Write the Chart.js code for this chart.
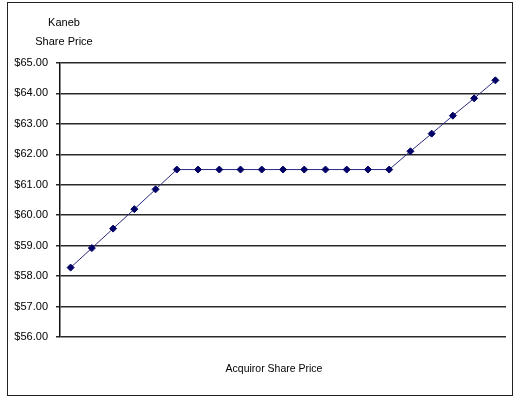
<!DOCTYPE html>
<html>
<head>
<meta charset="utf-8">
<script src="https://cdn.jsdelivr.net/npm/chart.js@4"></script>
<style>
  html, body { margin: 0; padding: 0; background: #fff; }
  #frame {
    position: absolute; left: 7px; top: 2px;
    width: 504px; height: 392px;
    border: 1px solid #222;
  }
  #kanebChart { display: block; }
</style>
</head>
<body>
<div id="frame">
  <canvas id="kanebChart" width="504" height="392"></canvas>
</div>
<script>
// acquiror share price steps (no labels shown on the axis)
const categories = ["1", "2", "3", "4", "5", "6", "7", "8", "9", "10", "11",
  "12", "13", "14", "15", "16", "17", "18", "19", "20", "21"];
const kanebPrices = [58.28, 58.92, 59.56, 60.20, 60.85, 61.50, 61.50, 61.50,
  61.50, 61.50, 61.50, 61.50, 61.50, 61.50, 61.50, 61.50, 62.10, 62.68, 63.27,
  63.84, 64.43];
const yTicks = [56, 57, 58, 59, 60, 61, 62, 63, 64, 65];
const yTitle = ["Kaneb", "Share Price"];
const xTitle = "Acquiror Share Price";

const fontFamily = '"Liberation Sans Narrow", "Arial Narrow", "Liberation Sans", Arial, sans-serif';

const titlesPlugin = {
  id: "titles",
  afterDraw(chart) {
    const ctx = chart.ctx;
    ctx.save();
    ctx.fillStyle = "#000";
    ctx.font = "11px " + fontFamily;
    ctx.textAlign = "center";
    ctx.textBaseline = "middle";
    ctx.fillText(yTitle[0], 56, 20);
    ctx.fillText(yTitle[1], 56, 39);
    ctx.font = "10.5px " + fontFamily;
    ctx.fillText(xTitle, 266, 366);
    ctx.restore();
  },
};

new Chart(document.getElementById("kanebChart"), {
  type: "line",
  data: {
    labels: categories,
    datasets: [
      {
        label: "Kaneb Share Price",
        data: kanebPrices,
        borderColor: "#2a2a80",
        borderWidth: 1,
        pointStyle: "rectRot",
        pointRadius: 3.5,
        pointBackgroundColor: "#000066",
        pointBorderColor: "#000066",
        pointBorderWidth: 1,
        fill: false,
        tension: 0,
      },
    ],
  },
  options: {
    responsive: false,
    animation: false,
    layout: { padding: { top: 60, right: 6, bottom: 50, left: 0 } },
    plugins: {
      legend: { display: false },
      tooltip: { enabled: false },
    },
    scales: {
      x: {
        offset: true,
        ticks: { display: false },
        grid: { display: false },
        border: { display: false },
      },
      y: {
        min: 56,
        max: 65,
        afterFit: (scale) => { scale.width = 52; },
        afterBuildTicks: (scale) => {
          scale.ticks = yTicks.map((v) => ({ value: v }));
        },
        ticks: {
          color: "#000",
          padding: 8,
          font: { family: fontFamily, size: 11 },
          callback: (v) => "$" + Number(v).toFixed(2),
        },
        grid: {
          color: "#2a2a2a",
          lineWidth: 1.5,
          tickLength: 4,
        },
        border: { color: "#111", width: 1.5 },
      },
    },
  },
  plugins: [titlesPlugin],
});
</script>
</body>
</html>
